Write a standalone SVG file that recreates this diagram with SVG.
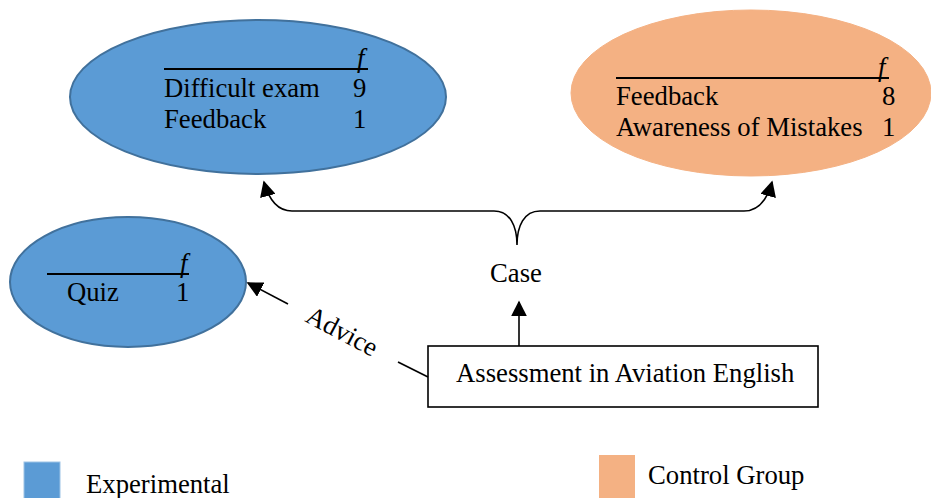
<svg xmlns="http://www.w3.org/2000/svg" width="931" height="498" viewBox="0 0 931 498">
  <style>
    text { font-family: "Liberation Serif", "Times New Roman", serif; font-size: 26.7px; fill: #000; }
    .fi { font-style: italic; }
    .exp { fill: #5B9BD5; stroke: #41719C; stroke-width: 2; }
    .ctl { fill: #F4B183; stroke: #F4B183; stroke-width: 1; }
    .rule { stroke: #000; stroke-width: 2; }
    .conn { fill: none; stroke: #000; stroke-width: 1.6; }
  </style>
  <defs>
    <marker id="arrowBig" viewBox="0 0 10 10" refX="9" refY="5" markerWidth="16" markerHeight="16" markerUnits="userSpaceOnUse" orient="auto-start-reverse">
      <path d="M0,0 L10,5 L0,10 z" fill="#000"/>
    </marker>
  </defs>

  <!-- Experimental: case outcomes -->
  <g id="exp-case">
    <ellipse class="exp" cx="258" cy="97" rx="188" ry="77"/>
    <line class="rule" x1="164" y1="69" x2="368" y2="69"/>
    <text class="fi" x="357" y="67">f</text>
    <text x="164" y="97">Difficult exam</text>
    <text x="353" y="97">9</text>
    <text x="164" y="128">Feedback</text>
    <text x="353" y="128">1</text>
  </g>

  <!-- Control group: case outcomes -->
  <g id="ctl-case">
    <ellipse class="ctl" cx="751" cy="93" rx="180" ry="83"/>
    <line class="rule" x1="616" y1="78" x2="889" y2="78"/>
    <text class="fi" x="878" y="76">f</text>
    <text x="616" y="105">Feedback</text>
    <text x="882" y="105">8</text>
    <text x="616" y="136">Awareness of Mistakes</text>
    <text x="882" y="136">1</text>
  </g>

  <!-- Experimental: advice outcome -->
  <g id="exp-advice">
    <ellipse class="exp" cx="128" cy="282" rx="118" ry="65"/>
    <line class="rule" x1="47" y1="274" x2="189" y2="274"/>
    <text class="fi" x="180" y="272">f</text>
    <text x="67" y="301">Quiz</text>
    <text x="176" y="301">1</text>
  </g>

  <!-- Source box -->
  <g id="assessment">
    <rect x="428" y="346" width="390" height="61" fill="#fff" stroke="#000" stroke-width="1.6"/>
    <text x="456" y="382">Assessment in Aviation English</text>
  </g>

  <!-- Connectors -->
  <g id="connectors">
    <path class="conn" d="M519,346 L519,302" marker-end="url(#arrowBig)"/>
    <text x="516" y="282" text-anchor="middle">Case</text>
    <path class="conn" d="M264,182 Q272,211 292,211 L494,211 C510,211 517,226 517,245 C517,226 524,211 540,211 L744,211 Q764,211 772,182" marker-start="url(#arrowBig)" marker-end="url(#arrowBig)"/>
    <path class="conn" d="M428,377 L398,362"/>
    <path class="conn" d="M288,304 L248,283" marker-end="url(#arrowBig)"/>
    <text x="304" y="321" transform="rotate(28 304 321)">Advice</text>
  </g>

  <!-- Legend -->
  <g id="legend">
    <rect x="24" y="462" width="36" height="40" fill="#5B9BD5" stroke="#9DC3E6" stroke-width="1"/>
    <text x="86" y="493">Experimental</text>
    <rect x="599" y="455" width="36" height="47" fill="#F4B183"/>
    <text x="648" y="484">Control Group</text>
  </g>
</svg>
